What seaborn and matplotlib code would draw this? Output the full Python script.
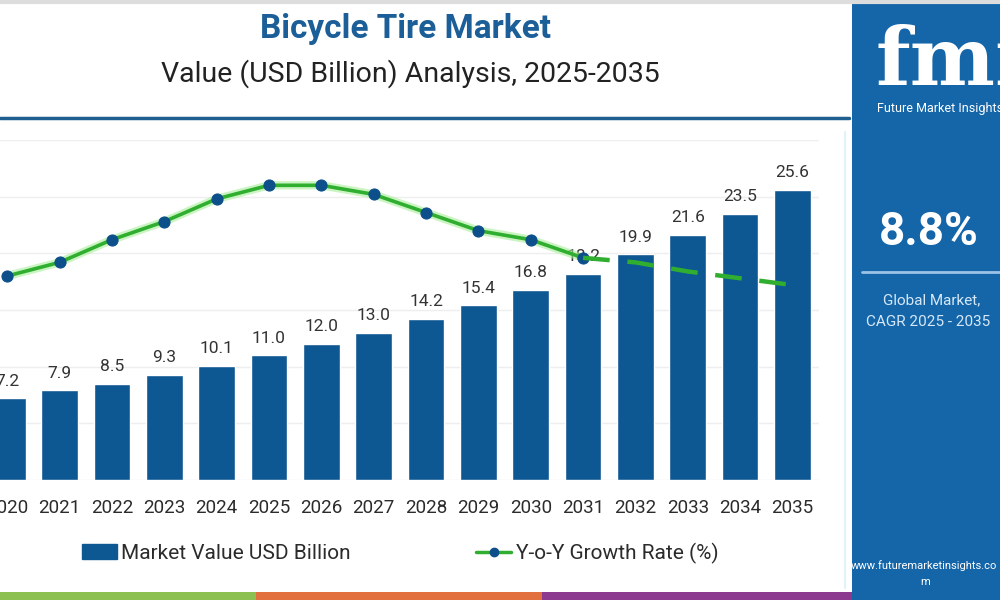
import numpy as np
import pandas as pd
import seaborn as sns
import matplotlib.pyplot as plt
from matplotlib.patches import Rectangle, Patch
from matplotlib.lines import Line2D

# Datos
years = ["2020", "2021", "2022", "2023", "2024", "2025", "2026", "2027",
         "2028", "2029", "2030", "2031", "2032", "2033", "2034", "2035"]
market_value = [7.2, 7.9, 8.5, 9.3, 10.1, 11.0, 12.0, 13.0,
                14.2, 15.4, 16.8, 18.2, 19.9, 21.6, 23.5, 25.6]
growth_rate = [7.0, 7.3, 7.8, 8.2, 8.7, 9.0, 9.0, 8.8,
               8.4, 8.0, 7.8, 7.4, 7.3, 7.1, 6.95, 6.8]
last_actual = 11  # indice de 2031, despues la linea es discontinua

bar_color = "#0d5793"
green = "#2fae2f"
marker_color = "#0d4f8b"

sns.set_style("white")
plt.rcParams['font.family'] = ['Roboto', 'DejaVu Sans']

df = pd.DataFrame({"year": years, "value": market_value})
pos = np.arange(len(years))

fig = plt.figure(figsize=(10, 6), dpi=100)
ax = fig.add_axes([-0.019, 0.2, 0.8377, 0.5667])

sns.barplot(data=df, x="year", y="value", color=bar_color, width=0.7,
            saturation=1, ax=ax, zorder=2)
ax.set_ylim(0, 30)
ax.set_yticks(np.arange(0, 31, 5))
ax.yaxis.grid(True, color="#eeeeee", linewidth=1)
ax.set_axisbelow(True)
ax.set_xlabel("")
ax.set_ylabel("")
ax.tick_params(axis="y", left=False, labelleft=False)
ax.tick_params(axis="x", length=0, labelsize=13.5, labelcolor="#2b2b2b", pad=14)
ax.set_xticks(np.arange(-0.5, len(years), 1), minor=True)
ax.tick_params(axis="x", which="minor", length=6, color="#e2d5c5", width=1)
sns.despine(ax=ax, left=True, right=True, top=True, bottom=True)

ax.bar_label(ax.containers[0], fmt="%.1f", padding=7, fontsize=12.5, color="#333333")

# Linea de crecimiento en eje secundario
ax2 = ax.twinx()
ax2.set_ylim(2.5, 10.0)
solid_x = pos[:last_actual + 1]
solid_y = growth_rate[:last_actual + 1]
dash_x = pos[last_actual:]
dash_y = growth_rate[last_actual:]
ax2.plot(solid_x, solid_y, color="#a8ee98", linewidth=6, alpha=0.6, zorder=1)
sns.lineplot(x=solid_x, y=solid_y, color=green, linewidth=2.6, marker="o",
             markersize=8, markerfacecolor=marker_color, markeredgecolor=marker_color,
             ax=ax2, zorder=3)
sns.lineplot(x=dash_x, y=dash_y, color=green, linewidth=3.2,
             dashes=False, ax=ax2, zorder=3)
ax2.lines[-1].set_dashes((6, 4))
ax2.set_axis_off()
ax.set_xlim(-0.5, len(years) - 0.5)

# Titulos
fig.text(0.405, 0.952, "Bicycle Tire Market", ha="center", va="center",
         fontsize=24, fontweight="bold", color="#1b5e98")
fig.text(0.41, 0.878, "Value (USD Billion) Analysis, 2025-2035", ha="center",
         va="center", fontsize=20.5, color="#222222")

# Lineas decorativas
fig.add_artist(Line2D([0, 0.849], [0.803, 0.803], color="#1f5f8f", linewidth=2.5))
fig.add_artist(Line2D([0, 1], [0.997, 0.997], color="#dddddd", linewidth=3))

# Leyenda
handles = [Patch(facecolor=bar_color, edgecolor=bar_color),
           Line2D([], [], color=green, linewidth=2.5, marker="o", markersize=6,
                  markerfacecolor=marker_color, markeredgecolor=marker_color)]
fig.legend(handles, ["Market Value USD Billion", "Y-o-Y Growth Rate (%)"],
           loc="center", bbox_to_anchor=(0.4, 0.078), ncol=2, frameon=False,
           fontsize=15, columnspacing=6, handlelength=1.7, handletextpad=0.2,
           labelcolor="#2b2b2b")

# Franja inferior
fig.add_artist(Rectangle((0, 0), 0.256, 0.013, transform=fig.transFigure,
                         color="#8cc152", linewidth=0))
fig.add_artist(Rectangle((0.256, 0), 0.286, 0.013, transform=fig.transFigure,
                         color="#e2703f", linewidth=0))
fig.add_artist(Rectangle((0.542, 0), 0.31, 0.013, transform=fig.transFigure,
                         color="#8b3a8f", linewidth=0))

# Panel derecho
fig.add_artist(Rectangle((0.852, 0), 0.148, 0.993, transform=fig.transFigure,
                         color="#1466a9", linewidth=0))
fig.add_artist(Line2D([0.845, 0.845], [0.02, 0.78], color="#dff3fb", linewidth=1.5))
fig.text(0.876, 0.895, "fmi", ha="left", va="center", fontsize=58,
         fontweight="bold", color="white", family="DejaVu Serif")
fig.text(0.877, 0.82, "Future Market Insights", ha="left", va="center",
         fontsize=9, color="white")
fig.text(0.879, 0.613, "8.8%", ha="left", va="center", fontsize=33,
         fontweight="bold", color="white")
fig.add_artist(Line2D([0.862, 1.0], [0.547, 0.547], color="#9cc3e6", linewidth=2))
fig.text(0.883, 0.5, "Global Market,", ha="left", va="center", fontsize=11,
         color="#d6e8f7")
fig.text(0.866, 0.463, "CAGR 2025 - 2035", ha="left", va="center", fontsize=11,
         color="#d6e8f7")
fig.text(0.851, 0.058, "www.futuremarketinsights.co", ha="left", va="center",
         fontsize=8, color="white")
fig.text(0.925, 0.03, "m", ha="center", va="center", fontsize=8, color="white")

fig.savefig("out.png", dpi=100)
